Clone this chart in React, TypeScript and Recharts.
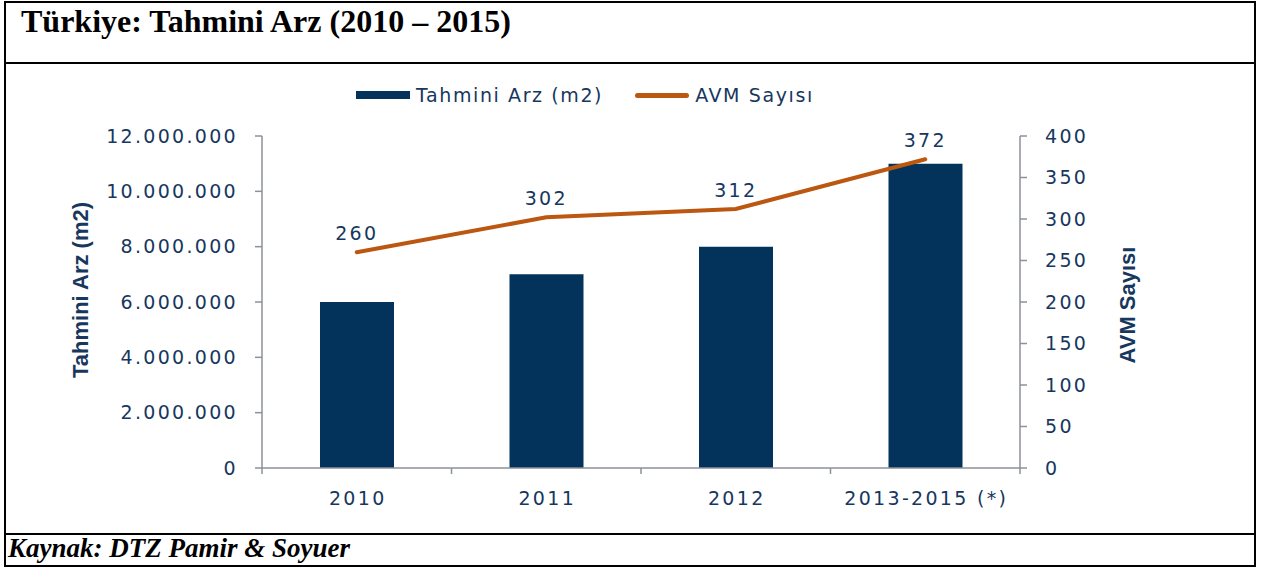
import React from 'react';
import {
  ComposedChart, Bar, Line, XAxis, YAxis, Legend, LabelList,
} from 'recharts';

const CATEGORIES = ['2010', '2011', '2012', '2013-2015 (*)'];
const ARZ = [6000000, 7000000, 8000000, 11000000];
const AVM = [260, 302, 312, 372];
const LEFT_TICKS = [0, 2000000, 4000000, 6000000, 8000000, 10000000, 12000000];
const RIGHT_TICKS = [0, 50, 100, 150, 200, 250, 300, 350, 400];

const data = CATEGORIES.map((name, i) => ({ name, arz: ARZ[i], avm: AVM[i] }));

const W = 1268;
const H = 567;
const PLOT_LEFT = 262;
const PLOT_RIGHT = 1020;
const BAND = (PLOT_RIGHT - PLOT_LEFT) / CATEGORIES.length;

const TEXT = '#17375e';
const BAR = '#03325a';
const LINE = '#bb5710';
const AXIS = '#8c919a';
const FONT = '"DejaVu Sans", Verdana, sans-serif';
const TITLE_FONT = '"Liberation Sans Narrow", "Liberation Sans", Arial, sans-serif';

const dots = (v: number) => String(v).replace(/\B(?=(\d{3})+(?!\d))/g, '.');

const tickStyle = { fill: TEXT, fontSize: 19, fontFamily: FONT, letterSpacing: 2.3 };

function XTick({ x, y, payload, index }: any) {
  const left = x - BAND / 2;
  return (
    <g>
      <line x1={left} y1={y} x2={left} y2={y + 6} stroke={AXIS} strokeWidth={1.5} />
      {index === CATEGORIES.length - 1 && (
        <line x1={x + BAND / 2} y1={y} x2={x + BAND / 2} y2={y + 6} stroke={AXIS} strokeWidth={1.5} />
      )}
      <text x={x + 1} y={y + 37} textAnchor="middle" {...tickStyle}>{payload.value}</text>
    </g>
  );
}

const axisTitle = (text: string, dx: number, dy: number) => (props: any) => {
  const vb = props.viewBox;
  const cx = vb.x + dx;
  const cy = vb.y + vb.height / 2 + dy;
  return (
    <text
      x={cx} y={cy} textAnchor="middle" dominantBaseline="central"
      transform={`rotate(-90 ${cx} ${cy})`}
      fill={TEXT} fontSize={22} fontWeight="bold" fontFamily={TITLE_FONT}
    >
      {text}
    </text>
  );
};

function LegendContent() {
  const item = { display: 'flex', alignItems: 'center', marginRight: 28 } as const;
  const label = { color: TEXT, fontSize: 19, fontFamily: FONT, letterSpacing: 1.6, marginLeft: 6 };
  return (
    <div style={{ display: 'flex', alignItems: 'center', whiteSpace: 'nowrap' }}>
      <div style={item}>
        <span style={{ width: 54, height: 8, background: BAR, display: 'inline-block' }} />
        <span style={label}>Tahmini Arz (m2)</span>
      </div>
      <div style={{ ...item, marginLeft: 4 }}>
        <span style={{ width: 54, height: 5, borderRadius: 3, background: LINE, display: 'inline-block' }} />
        <span style={label}>AVM Sayısı</span>
      </div>
    </div>
  );
}

export default function App() {
  return (
    <div style={{ position: 'absolute', left: 0, top: 0, width: W, height: H, background: '#fff' }}>
      {/* frame */}
      <div style={{ position: 'absolute', left: 4, top: 1, width: 1248, height: 562, border: '2px solid #000' }} />
      <div style={{ position: 'absolute', left: 4, top: 62, width: 1252, height: 2, background: '#000' }} />
      <div style={{ position: 'absolute', left: 4, top: 533, width: 1252, height: 2, background: '#000' }} />
      <div style={{
        position: 'absolute', left: 21, top: 3, fontFamily: '"Liberation Serif", "Times New Roman", serif',
        fontWeight: 'bold', fontSize: 32, color: '#000', whiteSpace: 'nowrap',
      }}>
        Türkiye: Tahmini Arz (2010 – 2015)
      </div>
      <div style={{
        position: 'absolute', left: 8, top: 533, fontFamily: '"Liberation Serif", "Times New Roman", serif',
        fontWeight: 'bold', fontStyle: 'italic', fontSize: 27, color: '#000', whiteSpace: 'nowrap',
      }}>
        Kaynak: DTZ Pamir &amp; Soyuer
      </div>

      <div style={{ position: 'absolute', left: 0, top: 0 }}>
        <ComposedChart
          width={W} height={H} data={data}
          margin={{ top: 136, right: 58, bottom: 39, left: 40 }}
          barCategoryGap={0}
        >
          <Legend
            layout="horizontal" verticalAlign="middle" align="center"
            wrapperStyle={{ left: 356, top: 84, width: 'auto' }}
            content={<LegendContent />}
          />
          <XAxis
            dataKey="name" height={60} tickSize={0} tickMargin={0} tickLine={false}
            axisLine={{ stroke: AXIS, strokeWidth: 1.5 }} tick={<XTick />} interval={0}
          />
          <YAxis
            yAxisId="left" width={222} domain={[0, 12000000]} ticks={LEFT_TICKS}
            tickFormatter={dots} tick={tickStyle} tickSize={7} tickMargin={17}
            axisLine={{ stroke: AXIS, strokeWidth: 1.5 }} tickLine={{ stroke: AXIS, strokeWidth: 1.5 }}
            label={{ value: 'Tahmini Arz (m2)', content: axisTitle('Tahmini Arz (m2)', 40, -12) }}
          />
          <YAxis
            yAxisId="right" orientation="right" width={190} domain={[0, 400]} ticks={RIGHT_TICKS}
            tick={tickStyle} tickSize={7} tickMargin={18}
            axisLine={{ stroke: AXIS, strokeWidth: 1.5 }} tickLine={{ stroke: AXIS, strokeWidth: 1.5 }}
            label={{ value: 'AVM Sayısı', content: axisTitle('AVM Sayısı', 107, 3) }}
          />
          <Bar yAxisId="left" dataKey="arz" fill={BAR} barSize={74} isAnimationActive={false} />
          <Line
            yAxisId="right" type="linear" dataKey="avm" stroke={LINE} strokeWidth={4}
            strokeLinecap="round" dot={false} activeDot={false} isAnimationActive={false}
          >
            <LabelList dataKey="avm" position="top" offset={12} style={tickStyle} />
          </Line>
        </ComposedChart>
      </div>
    </div>
  );
}
